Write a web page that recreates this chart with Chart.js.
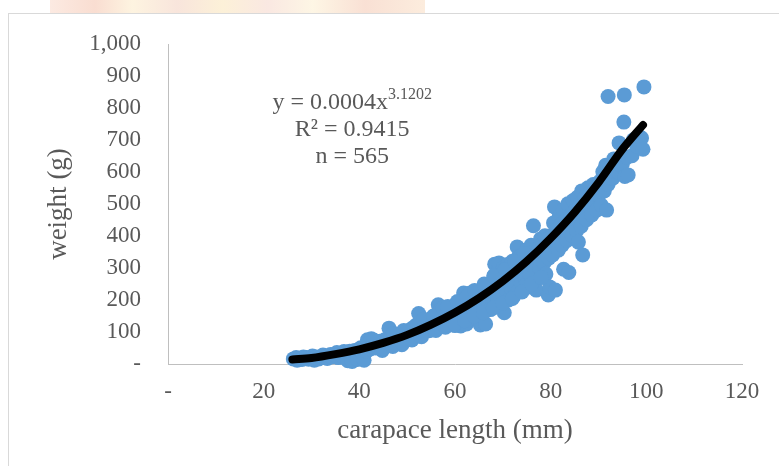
<!DOCTYPE html>
<html>
<head>
<meta charset="utf-8">
<script src="https://cdn.jsdelivr.net/npm/chart.js@4.4.0/dist/chart.umd.min.js"></script>
<style>
html, body { margin: 0; padding: 0; background: #fff; }
#wrap { position: relative; width: 779px; height: 466px; overflow: hidden; background: #fff; }
#watermark {
    position: absolute; left: 50px; top: 0; width: 375px; height: 13px;
    background: linear-gradient(90deg, #fbe3d8 0%, #f7d2c2 12%, #fdf0d6 22%, #f6dcd0 34%, #fbeccb 46%,
        #f8e0d8 58%, #fdf3dc 70%, #f7d6c6 84%, #fbe6d2 100%);
    opacity: 0.75;
}
#frame { position: absolute; left: 8px; top: 13px; width: 820px; height: 520px; border: 1px solid #d9d9d9; background: #fff; }
canvas { position: absolute; left: 0; top: 0; }
</style>
</head>
<body>
<div id="wrap">
    <div id="watermark"></div>
    <div id="frame"></div>
    <canvas id="chart" width="779" height="466"></canvas>
</div>
<script>
// carapace length (mm) of each measured animal
const lengthMm = [
    26.2, 26.8, 27.0, 27.5, 28.0, 28.3, 29.0, 29.4, 30.0, 30.2, 30.6, 31.0, 31.5, 32.0, 32.4, 33.0, 33.3,
    34.0, 34.2, 34.7, 35.0, 35.3, 35.6, 36.0, 36.4, 36.8, 37.0, 37.4, 37.6, 38.0, 38.3, 38.5, 39.0, 39.2, 39.6,
    40.0, 40.3, 40.5, 40.8, 41.0, 41.2, 41.5, 41.7, 42.0, 42.3, 42.5, 42.8, 43.0, 43.4, 43.7, 44.0, 44.3, 44.6, 44.8,
    45.0, 45.3, 45.6, 46.0, 46.2, 46.5, 46.8, 47.0, 47.4, 47.7, 48.0, 48.3, 48.6, 48.9, 49.0, 49.4, 49.7,
    50.0, 50.3, 50.6, 50.9, 51.0, 51.3, 51.6, 51.9, 52.0, 52.3, 52.6, 52.4, 53.0, 53.3, 53.6, 53.9,
    54.0, 54.3, 54.6, 54.9, 55.0, 55.3, 55.6, 55.9, 56.0, 56.3, 56.5, 56.5, 56.8, 57.0, 57.2, 57.5, 57.8,
    58.0, 58.2, 58.5, 58.8, 59.0, 59.2, 59.5, 59.7, 59.9, 60.0, 60.2, 60.5, 60.7, 61.0, 61.2, 61.5, 61.7, 61.8,
    62.0, 62.2, 62.4, 62.6, 62.8, 63.0, 63.2, 63.4, 63.6, 63.8, 64.0, 64.2, 64.5, 64.7, 64.9, 65.2, 65.3, 65.4,
    65.6, 65.8, 66.0, 66.2, 66.4, 66.6, 66.8, 67.0, 67.2, 67.4, 67.6, 67.8, 68.0, 68.2, 68.3, 68.5, 68.7, 68.9,
    69.0, 69.2, 69.4, 69.6, 69.8, 70.0, 70.1, 70.3, 70.5, 70.7, 70.9, 71.0, 71.2, 71.4, 71.6, 71.8,
    72.0, 72.2, 72.4, 72.6, 72.8, 73.0, 73.1, 73.3, 73.5, 73.7, 73.9, 74.0, 74.3, 74.5, 74.7, 74.9,
    75.0, 75.3, 75.5, 75.7, 75.9, 76.0, 76.3, 76.4, 76.6, 76.8, 77.0, 77.3, 77.5, 77.7, 77.9,
    78.2, 78.4, 78.6, 78.8, 79.0, 79.2, 79.4, 79.5, 79.6, 79.8, 80.0, 80.2, 80.4, 80.6, 80.8,
    81.0, 81.2, 81.4, 81.6, 81.8, 82.0, 82.2, 82.4, 82.6, 82.7, 83.0, 83.2, 83.4, 83.6, 83.8,
    84.0, 84.3, 84.5, 84.7, 85.0, 85.2, 85.4, 85.6, 85.8, 86.0, 86.2, 86.4, 86.5, 86.7,
    87.0, 87.2, 87.5, 87.8, 88.0, 88.3, 88.6, 88.9, 89.0, 89.3, 89.6, 90.0, 90.3, 90.6, 90.9,
    91.2, 91.5, 91.7, 92.0, 92.0, 92.3, 92.6, 93.0, 93.2, 93.5, 94.0, 94.3, 94.6,
    95.0, 95.3, 95.5, 95.4, 96.0, 96.2, 97.0, 97.3, 98.0, 98.5, 99.0, 99.3, 99.5,
    43.0, 45.0, 47.0, 47.2, 49.0, 49.3, 51.0, 51.4, 53.0, 53.4, 55.5, 56.0, 57.5, 58.0, 58.5, 60.0,
    60.5, 62.0, 62.5, 64.0, 64.1, 66.0, 66.1, 68.0, 68.1, 70.0, 70.5, 72.0, 72.5, 74.0, 74.5, 76.0, 78.0
];
// weight (g), same order as lengthMm
const weightG = [
    16, 20, 12, 18, 14, 22, 20, 15, 18, 25, 12, 22, 16, 20, 28, 24, 17,
    30, 22, 27, 28, 36, 20, 32, 25, 39, 30, 36, 10, 40, 31, 8, 42, 35, 14,
    46, 51, 38, 30, 12, 52, 40, 76, 55, 47, 79, 61, 58, 50, 68, 63, 71, 55, 42,
    68, 76, 60, 72, 112, 80, 64, 78, 86, 70, 82, 92, 75, 60, 88, 96, 80,
    92, 101, 85, 110, 98, 106, 90, 122, 105, 113, 95, 158, 110, 121, 100, 131,
    115, 126, 104, 141, 122, 136, 110, 152, 128, 141, 117, 185, 161, 170, 135, 149, 125,
    166, 142, 156, 130, 176, 150, 165, 135, 181, 120, 158, 171, 145, 186, 119, 165, 181, 222,
    150, 196, 125, 172, 191, 160, 222, 140, 180, 201, 165, 211, 188, 206, 172, 226, 122, 150,
    198, 216, 180, 236, 125, 205, 226, 190, 251, 170, 215, 241, 195, 276, 312, 225, 251, 205,
    291, 316, 180, 236, 261, 215, 301, 160, 246, 271, 225, 311, 200, 256, 286, 235,
    321, 210, 268, 296, 245, 366, 331, 230, 280, 306, 255, 341, 291, 321, 265, 356,
    250, 305, 336, 280, 371, 240, 316, 432, 351, 291, 231, 331, 361, 301, 391,
    346, 376, 316, 401, 281, 356, 391, 216, 331, 241, 371, 401, 341, 441, 491,
    231, 386, 421, 356, 461, 401, 436, 371, 481, 296, 416, 451, 386, 501, 286,
    431, 466, 401, 511, 446, 481, 416, 521, 381, 461, 501, 431, 541, 341,
    481, 521, 451, 551, 496, 536, 466, 561, 511, 551, 481, 526, 571, 496, 601,
    541, 621, 481, 561, 836, 611, 581, 581, 641, 601, 601, 691, 621,
    626, 756, 586, 841, 646, 591, 651, 701, 681, 711, 706, 671, 866,
    75, 50, 55, 95, 65, 105, 75, 115, 85, 140, 150, 105, 175, 115, 180, 125,
    195, 135, 210, 150, 230, 160, 250, 175, 275, 190, 295, 205, 320, 225, 345, 250, 270
];
// power trendline as it appears in the picture
const trendX = [26, 30, 35, 40, 45, 50, 55, 60, 65, 70, 75, 80, 85, 90, 95, 99.3];
const trendY = [14, 19, 31, 46, 66, 91, 123, 161, 206, 259, 321, 393, 474, 567, 671, 747];

const fitLines = ['y = 0.0004x', 'R\u00b2 = 0.9415', 'n = 565'];
const fitPower = '3.1202';

const serif = '"Liberation Serif", "Times New Roman", serif';
const grey = '#595959';

const scatterPoints = lengthMm.map((v, i) => ({ x: v, y: weightG[i] }));
const trendPoints = trendX.map((v, i) => ({ x: v, y: trendY[i] }));

const fitLabel = {
    id: 'fitLabel',
    afterDatasetsDraw(chart) {
        const ctx = chart.ctx;
        const x = chart.scales.x, y = chart.scales.y;
        const cx = x.getPixelForValue(38.5);
        const rows = [815, 731, 647].map(v => y.getPixelForValue(v));
        ctx.save();
        ctx.fillStyle = grey;
        ctx.textBaseline = 'middle';
        // first row has a superscript exponent
        ctx.font = '24px ' + serif;
        const w1 = ctx.measureText(fitLines[0]).width;
        ctx.font = '16px ' + serif;
        const w2 = ctx.measureText(fitPower).width;
        let left = cx - (w1 + w2) / 2;
        ctx.textAlign = 'left';
        ctx.font = '24px ' + serif;
        ctx.fillText(fitLines[0], left, rows[0]);
        ctx.font = '16px ' + serif;
        ctx.fillText(fitPower, left + w1, rows[0] - 8);
        ctx.textAlign = 'center';
        ctx.font = '24px ' + serif;
        ctx.fillText(fitLines[1], cx, rows[1]);
        ctx.fillText(fitLines[2], cx, rows[2]);
        ctx.restore();
    }
};

new Chart(document.getElementById('chart'), {
    data: {
        datasets: [{
            type: 'line',
            data: trendPoints,
            borderColor: '#000000',
            borderWidth: 8,
            borderCapStyle: 'round',
            pointRadius: 0,
            cubicInterpolationMode: 'monotone',
            fill: false,
            order: 0
        }, {
            type: 'scatter',
            data: scatterPoints,
            backgroundColor: '#5b9bd5',
            borderWidth: 0,
            pointRadius: 7.5,
            clip: false,
            order: 1
        }]
    },
    options: {
        responsive: false,
        animation: false,
        layout: { padding: { left: 0, right: 37, top: 44, bottom: 0 } },
        plugins: { legend: { display: false }, tooltip: { enabled: false } },
        scales: {
            x: {
                type: 'linear',
                min: 0, max: 120,
                afterFit: s => { s.height = 102; },
                grid: { display: false, drawTicks: false },
                border: { display: true, color: '#bfbfbf', width: 1 },
                ticks: {
                    stepSize: 20, padding: 14, color: grey,
                    font: { family: serif, size: 23 },
                    callback: v => v === 0 ? '-' : v.toLocaleString('en-US')
                },
                title: {
                    display: true, text: 'carapace length (mm)', color: grey,
                    font: { family: serif, size: 27 },
                    padding: { top: 0, bottom: 19 }
                }
            },
            y: {
                type: 'linear',
                min: 0, max: 1000,
                afterFit: s => { s.width = 168; },
                grid: { display: false, drawTicks: false },
                border: { display: true, color: '#bfbfbf', width: 1 },
                ticks: {
                    stepSize: 100, padding: 27, color: grey,
                    font: { family: serif, size: 23 },
                    callback: v => v === 0 ? '-' : v.toLocaleString('en-US')
                },
                title: {
                    display: true, text: 'weight (g)', color: grey,
                    font: { family: serif, size: 27 },
                    padding: { top: 43, bottom: 0 }
                }
            }
        }
    },
    plugins: [fitLabel]
});
</script>
</body>
</html>
